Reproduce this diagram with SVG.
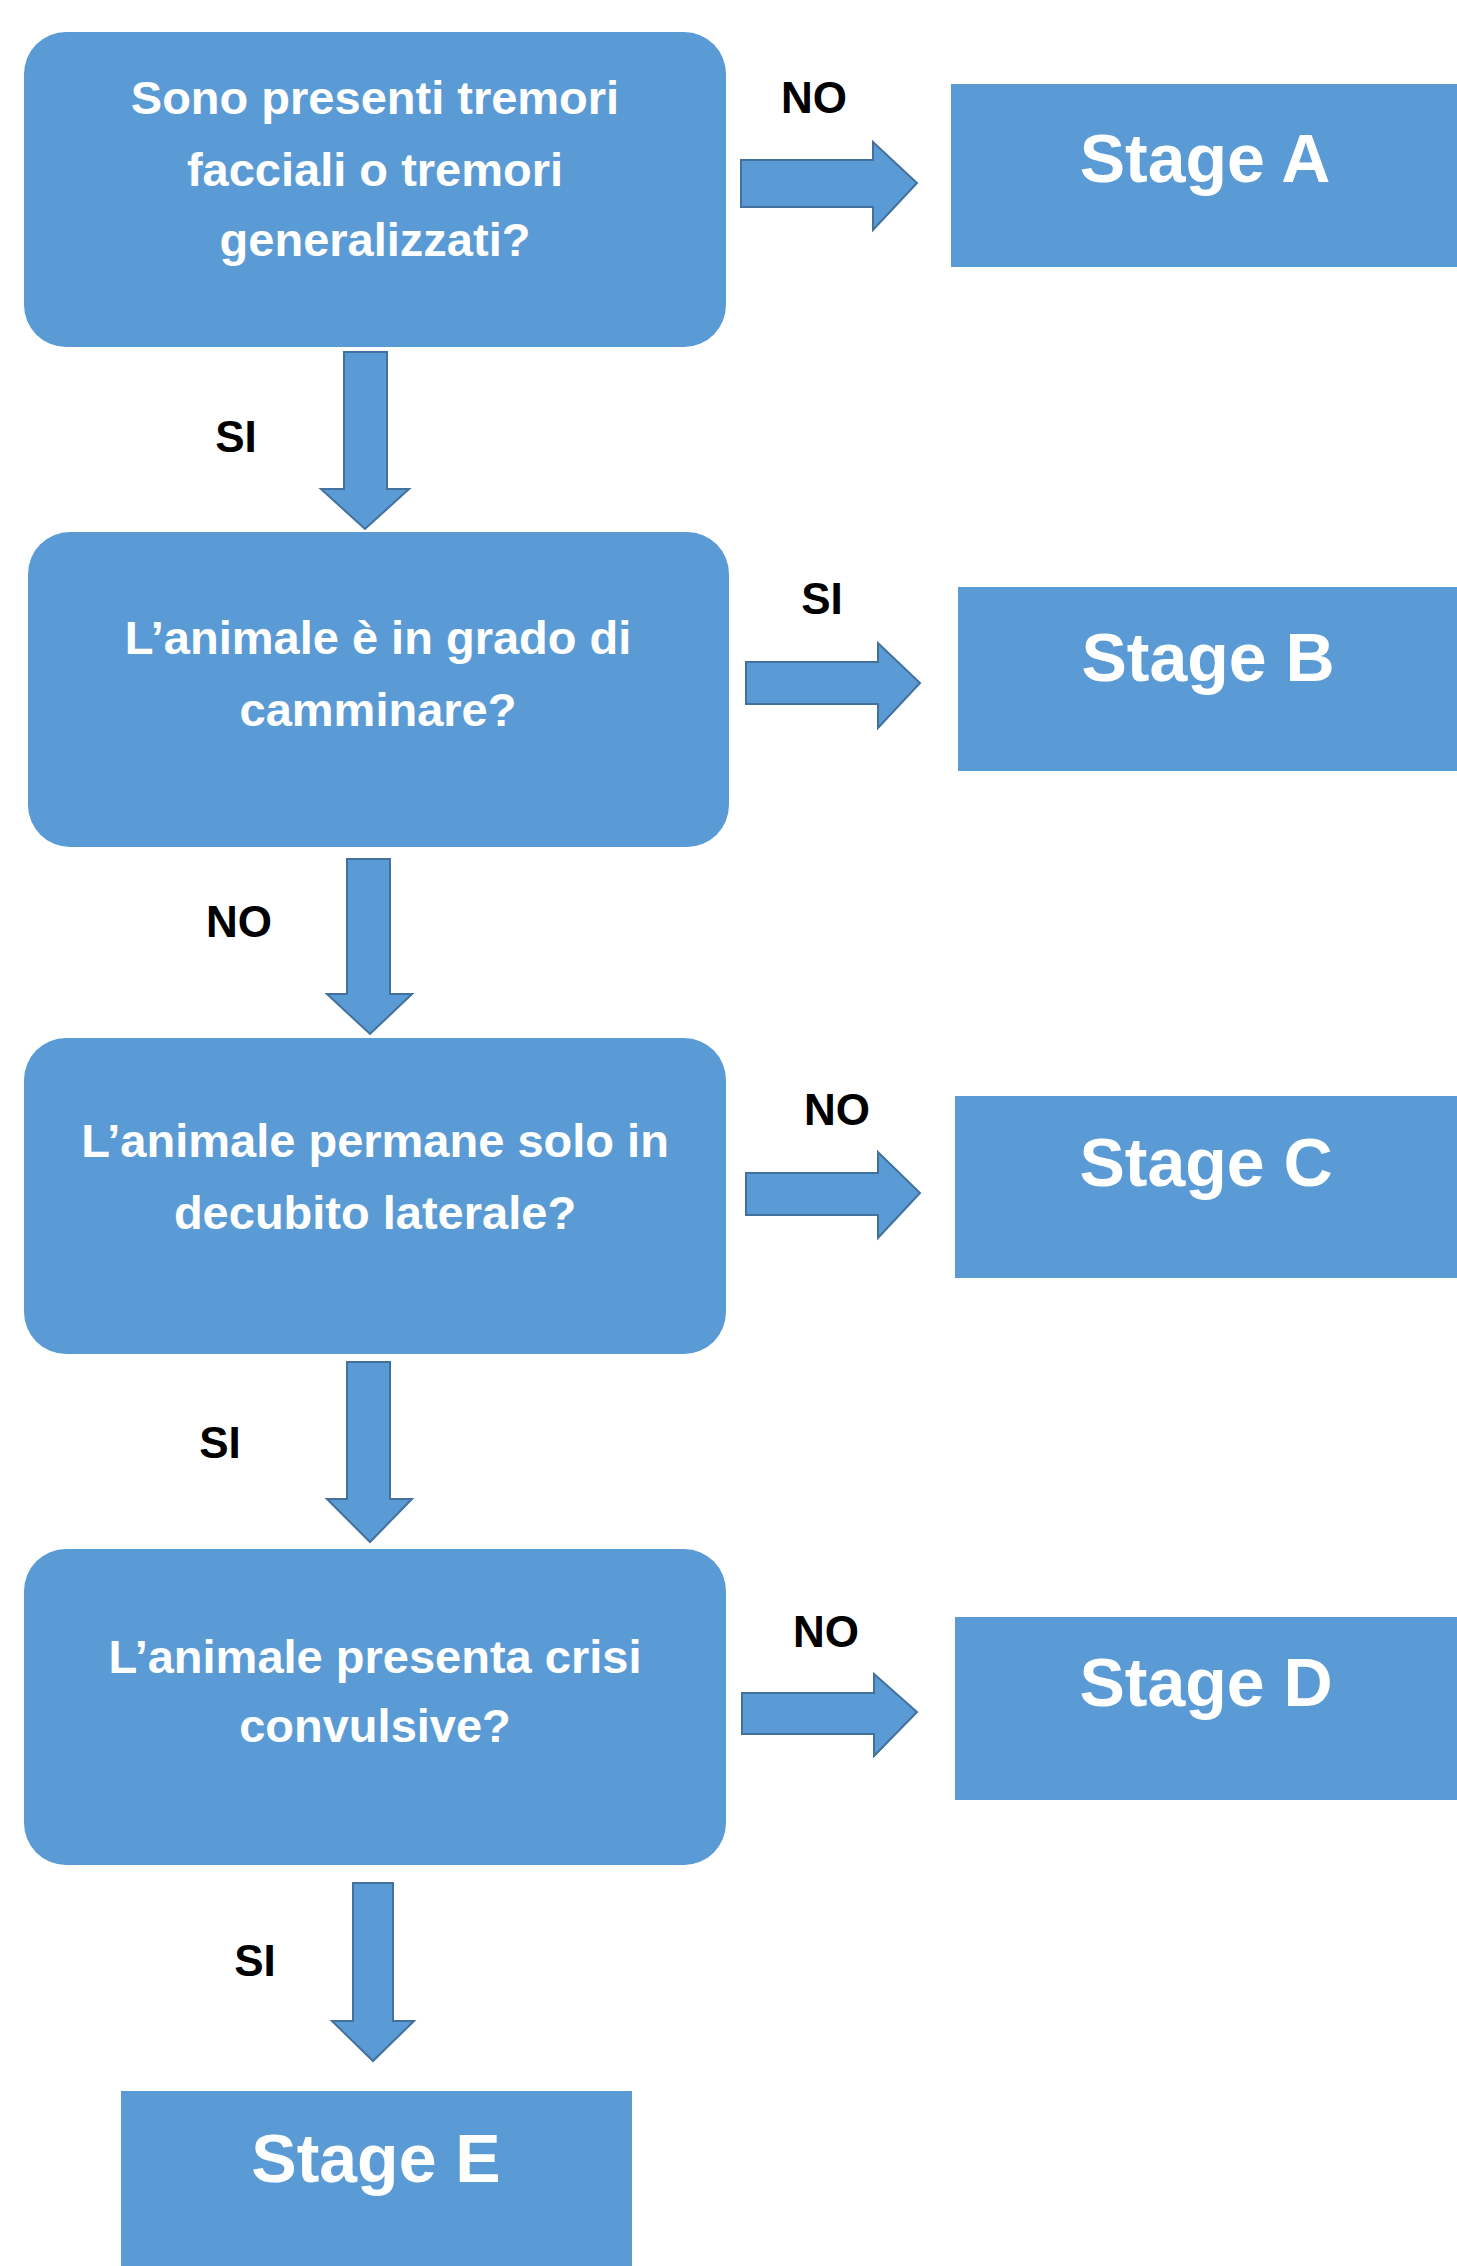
<svg xmlns="http://www.w3.org/2000/svg" width="1457" height="2266" viewBox="0 0 1457 2266">
<style>
.q{fill:#5B9BD5}
.st{fill:#5B9BD5}
.ar{fill:#5B9BD5;stroke:#41719C;stroke-width:2;stroke-linejoin:miter}
.qt{font-family:"Liberation Sans",Arial,sans-serif;font-weight:bold;font-size:47px;fill:#fff;text-anchor:middle}
.stt{font-family:"Liberation Sans",Arial,sans-serif;font-weight:bold;font-size:68px;fill:#fff;text-anchor:middle}
.lb{font-family:"Liberation Sans",Arial,sans-serif;font-weight:bold;font-size:44px;fill:#000;text-anchor:middle}
</style>
<rect width="1457" height="2266" fill="#fff"/>
<g id="connectors">
<polygon class="ar" points="741,160 873,160 873,142 917,183 873,230 873,207 741,207"/>
<polygon class="ar" points="344,352 387,352 387,489 409,489 365,529 321,489 344,489"/>
<polygon class="ar" points="746,662 878,662 878,643 920,683 878,728 878,704 746,704"/>
<polygon class="ar" points="347,859 390,859 390,994 412,994 370,1034 327,994 347,994"/>
<polygon class="ar" points="746,1173 878,1173 878,1152 920,1193 878,1238 878,1215 746,1215"/>
<polygon class="ar" points="347,1362 390,1362 390,1499 412,1499 370,1542 327,1499 347,1499"/>
<polygon class="ar" points="742,1693 874,1693 874,1674 917,1712 874,1756 874,1734 742,1734"/>
<polygon class="ar" points="353,1883 393,1883 393,2021 414,2021 373,2061 332,2021 353,2021"/>
<text class="lb" x="814" y="113">NO</text>
<text class="lb" x="236" y="452">SI</text>
<text class="lb" x="822" y="614">SI</text>
<text class="lb" x="239" y="937">NO</text>
<text class="lb" x="837" y="1125">NO</text>
<text class="lb" x="220" y="1458">SI</text>
<text class="lb" x="826" y="1647">NO</text>
<text class="lb" x="255" y="1976">SI</text>
</g>
<g id="q1">
<rect class="q" x="24" y="32" width="702" height="315" rx="42"/>
<text class="qt" x="375" y="114">Sono presenti tremori</text>
<text class="qt" x="375" y="186">facciali o tremori</text>
<text class="qt" x="375" y="256">generalizzati?</text>
</g>
<g id="q2">
<rect class="q" x="28" y="532" width="701" height="315" rx="42"/>
<text class="qt" x="378" y="654">L’animale è in grado di</text>
<text class="qt" x="378" y="726">camminare?</text>
</g>
<g id="q3">
<rect class="q" x="24" y="1038" width="702" height="316" rx="42"/>
<text class="qt" x="375" y="1157">L’animale permane solo in</text>
<text class="qt" x="375" y="1229">decubito laterale?</text>
</g>
<g id="q4">
<rect class="q" x="24" y="1549" width="702" height="316" rx="42"/>
<text class="qt" x="375" y="1673">L’animale presenta crisi</text>
<text class="qt" x="375" y="1742">convulsive?</text>
</g>
<g id="stageA">
<rect class="st" x="951" y="84" width="506" height="183"/>
<text class="stt" x="1205" y="182">Stage A</text>
</g>
<g id="stageB">
<rect class="st" x="958" y="587" width="499" height="184"/>
<text class="stt" x="1208" y="681">Stage B</text>
</g>
<g id="stageC">
<rect class="st" x="955" y="1096" width="502" height="182"/>
<text class="stt" x="1206" y="1186">Stage C</text>
</g>
<g id="stageD">
<rect class="st" x="955" y="1617" width="502" height="183"/>
<text class="stt" x="1206" y="1706">Stage D</text>
</g>
<g id="stageE">
<rect class="st" x="121" y="2091" width="511" height="175"/>
<text class="stt" x="376" y="2182">Stage E</text>
</g>
</svg>
